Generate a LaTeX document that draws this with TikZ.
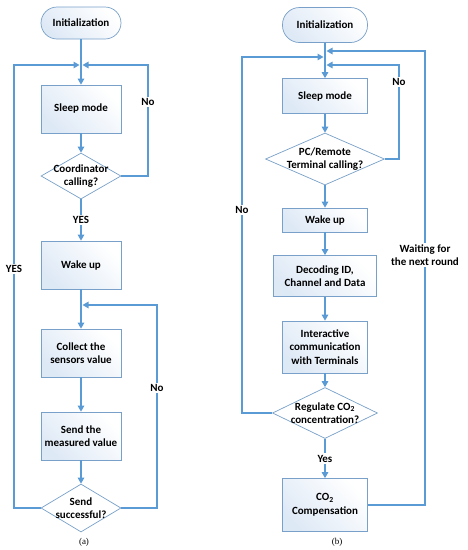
\documentclass[tikz,border=0pt]{standalone}
\usepackage{fontspec}
\setmainfont{Carlito}
\newfontfamily\capfont{Liberation Serif}
\usetikzlibrary{arrows.meta,shapes.geometric}
\definecolor{flowline}{RGB}{91,155,213}
\definecolor{boxline}{RGB}{120,160,200}
\definecolor{boxfill}{RGB}{222,233,246}
\tikzset{>={Triangle[length=6pt,width=6.5pt]}}
\tikzset{
  boxfont/.style={font=\fontsize{11}{13.5}\selectfont\bfseries},
  stepbox/.style={draw=boxline,line width=.7pt,left color=boxfill,right color=white,
    shading angle=135,align=center,boxfont,inner sep=0pt},
  termbox/.style={stepbox,rounded corners=16pt},
  decbox/.style={diamond,draw=boxline,line width=.7pt,fill=white,inner sep=0pt,
    minimum width=#1},
  dectext/.style={align=center,boxfont,inner sep=0pt},
  conn/.style={draw=flowline,line width=1.3pt},
  lbl/.style={boxfont,fill=white,inner sep=1.5pt},
}

\begin{document}
\begin{tikzpicture}[x=1pt,y=-1pt]
    \useasboundingbox (0,0) rectangle (468,550);
    % (a)
    \node[termbox,minimum width=80pt,minimum height=32pt] (initA) at (81,23) {Initialization};
    \node[stepbox,minimum width=80pt,minimum height=48pt] (sleepA) at (81,109) {Sleep mode};
    \node[decbox=80pt,minimum height=46pt] (coord) at (81,176) {};
    \node[dectext] at (coord) {Coordinator\\calling?};
    \node[stepbox,minimum width=80pt,minimum height=48pt] (wakeA) at (81,265) {Wake up};
    \node[stepbox,minimum width=80pt,minimum height=48pt] (collect) at (81,353) {Collect the\\sensors value};
    \node[stepbox,minimum width=80pt,minimum height=48pt] (sendval) at (81,436) {Send the\\measured value};
    \node[decbox=80pt,minimum height=48pt] (sendok) at (81,508) {};
    \node[dectext] at (sendok) {Send\\successful?};
    \coordinate (mergeA) at (81,65);
    \coordinate (mergeB) at (81,305);
    \draw[conn] (initA) -- (mergeA);
    \draw[conn,->] (mergeA) -- (sleepA);
    \draw[conn,->] (sleepA) -- (coord);
    \draw[conn,->] (coord) -- node[lbl] {YES} (wakeA);
    \draw[conn] (wakeA) -- (mergeB);
    \draw[conn,->] (mergeB) -- (collect);
    \draw[conn,->] (collect) -- (sendval);
    \draw[conn,->] (sendval) -- (sendok);
    \draw[conn,->] (coord.east) -- (148,176) -- node[lbl,pos=.67] {No} (148,65) -- ([xshift=1.5pt]mergeA);
    \draw[conn,->] (sendok.west) -- (14,508) -- node[lbl,pos=.54] {YES} (14,65) -- ([xshift=-1.5pt]mergeA);
    \draw[conn,->] (sendok.east) -- (157,508) -- node[lbl,pos=.59] {No} (157,305) -- ([xshift=1.5pt]mergeB);
    \node[font=\capfont\small] (capA) at (84,542) {(a)};
    % (b)
    \node[termbox,minimum width=85pt,minimum height=35pt,rounded corners=17pt] (initB) at (325,25) {Initialization};
    \node[stepbox,minimum width=85pt,minimum height=35pt] (sleepB) at (325,96) {Sleep mode};
    \node[decbox=119pt,minimum height=52pt] (pccall) at (325,159) {};
    \node[dectext] at (pccall) {PC/Remote\\Terminal calling?};
    \node[stepbox,minimum width=85pt,minimum height=24pt] (wakeB) at (325,220) {Wake up};
    \node[stepbox,minimum width=103pt,minimum height=41pt] (decode) at (325,276) {Decoding ID,\\Channel and Data};
    \node[stepbox,minimum width=85pt,minimum height=52pt] (interact) at (325,347) {Interactive\\communication\\with Terminals};
    \node[decbox=105pt,minimum height=51pt] (regco) at (325,413) {};
    \node[dectext] at (regco) {Regulate CO\textsubscript{2}\\concentration?};
    \node[stepbox,minimum width=85pt,minimum height=53pt] (comp) at (325,505) {CO\textsubscript{2}\\Compensation};
    \coordinate (mergeC) at (325,51);
    \coordinate (mergeD) at (325,57);
    \coordinate (mergeE) at (325,65);
    \draw[conn,->] (initB) -- (sleepB);
    \draw[conn,->] (sleepB) -- (pccall);
    \draw[conn,->] (pccall) -- (wakeB);
    \draw[conn,->] (wakeB) -- (decode);
    \draw[conn,->] (decode) -- (interact);
    \draw[conn,->] (interact) -- (regco);
    \draw[conn,->] (regco) -- node[lbl] {Yes} (comp);
    \draw[conn,->] (pccall.east) -- (399,159) -- node[lbl,pos=.82] {No} (399,65) -- ([xshift=1.5pt]mergeE);
    \draw[conn,->] (regco.west) -- (242,413) -- node[lbl,pos=.57] {No} (242,57) -- ([xshift=-1.5pt]mergeD);
    \draw[conn,->] (comp.east) -- (425,505) -- node[lbl,pos=.55,align=center] {Waiting for\\the next round} (425,51) -- ([xshift=1.5pt]mergeC);
    \node[font=\capfont\small] (capB) at (337,542) {(b)};
\end{tikzpicture}
\end{document}
